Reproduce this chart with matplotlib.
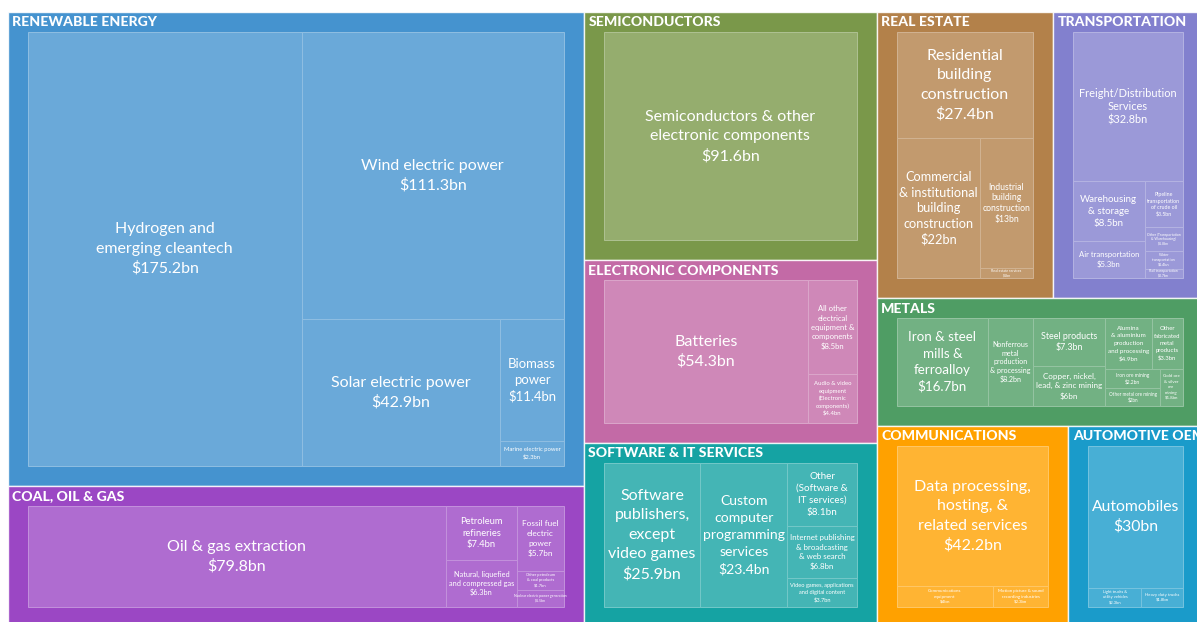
import matplotlib
matplotlib.use("Agg")
import matplotlib.pyplot as plt
from matplotlib.patches import Rectangle
from matplotlib.font_manager import FontProperties
from matplotlib import colors as mcolors
from itertools import combinations
import numpy as np

# ------------------------------------------------------------------ data
group_names = ["RENEWABLE ENERGY", "COAL, OIL & GAS", "SEMICONDUCTORS",
               "ELECTRONIC COMPONENTS", "SOFTWARE & IT SERVICES", "REAL ESTATE",
               "TRANSPORTATION", "METALS", "COMMUNICATIONS", "AUTOMOTIVE OEM"]
group_colors = ["#4593CF", "#9B47C4", "#7A984A", "#C36AA6", "#15A3A3",
                "#B3814A", "#8280CE", "#4F9D64", "#FFA100", "#1A9BCA"]

renewable_names = ["Hydrogen and emerging cleantech", "Wind electric power",
                   "Solar electric power", "Biomass power", "Marine electric power"]
renewable_values = [175.2, 111.3, 42.9, 11.4, 2.3]

coal_names = ["Oil & gas extraction", "Petroleum refineries",
              "Natural, liquefied and compressed gas", "Fossil fuel electric power",
              "Other petroleum & coal products", "Nuclear electric power generation"]
coal_values = [79.8, 7.4, 6.3, 5.7, 1.7, 1.5]

semis_names = ["Semiconductors & other electronic components"]
semis_values = [91.6]

electronic_names = ["Batteries", "All other electrical equipment & components",
                    "Audio & video equipment (Electronic components)"]
electronic_values = [54.3, 8.5, 4.4]

software_names = ["Software publishers, except video games",
                  "Custom computer programming services",
                  "Other (Software & IT services)",
                  "Internet publishing & broadcasting & web search",
                  "Video games, applications and digital content"]
software_values = [25.9, 23.4, 8.1, 6.8, 3.7]

realestate_names = ["Residential building construction",
                    "Commercial & institutional building construction",
                    "Industrial building construction", "Real estate services"]
realestate_values = [27.4, 22, 13, 1]

transport_names = ["Freight/Distribution Services", "Warehousing & storage",
                   "Air transportation", "Pipeline transportation of crude oil",
                   "Other (Transportation & Warehousing)", "Water transportation",
                   "Rail transportation"]
transport_values = [32.8, 8.5, 5.3, 3.5, 1.8, 1.4, 0.7]

metals_names = ["Iron & steel mills & ferroalloy",
                "Nonferrous metal production & processing", "Steel products",
                "Copper, nickel, lead, & zinc mining",
                "Alumina & aluminium production and processing",
                "Other fabricated metal products", "Iron ore mining",
                "Other metal ore mining", "Gold ore & silver ore mining"]
metals_values = [16.7, 8.2, 7.3, 6, 4.9, 3.3, 2.2, 2, 1.8]

communications_names = ["Data processing, hosting, & related services",
                        "Communications equipment",
                        "Motion picture & sound recording industries"]
communications_values = [42.2, 4, 2.3]

automotive_names = ["Automobiles", "Light trucks & utility vehicles",
                    "Heavy duty trucks"]
automotive_values = [30, 2.3, 1.8]

group_children = [
    (renewable_names, renewable_values), (coal_names, coal_values),
    (semis_names, semis_values), (electronic_names, electronic_values),
    (software_names, software_values), (realestate_names, realestate_values),
    (transport_names, transport_values), (metals_names, metals_values),
    (communications_names, communications_values),
    (automotive_names, automotive_values)]

# ------------------------------------------------------------------ layout
W_PX, H_PX, DPI = 1197, 622, 100
FONT = "Lato"
X0, Y0, TW, TH = 8, 12, 1195, 615     # treemap extent (pixels)
PAD = 20                               # group padding (header band on top)
SPLIT_BIAS = 0.55                      # prefer the split just above half


def binary_layout(values, x0, y0, x1, y1, inner=False):
    """Binary treemap tiling (d3-like, with a split-point bias)."""
    n = len(values)
    sums = np.concatenate([[0.0], np.cumsum(values)])
    rects = [None] * n

    def part(i, j, value, x0, y0, x1, y1):
        if i >= j - 1:
            rects[i] = (x0, y0, x1, y1)
            return
        off = sums[i]
        target = value / 2 + off
        k, hi = i + 1, j - 1
        while k < hi:
            mid = (k + hi) // 2
            if sums[mid] < target:
                k = mid + 1
            else:
                hi = mid
        if i + 1 < k and (target - sums[k - 1]) < SPLIT_BIAS * (sums[k] - target):
            k -= 1
        vl = sums[k] - off
        vr = value - vl
        w, h = x1 - x0, y1 - y0
        vbias = 1.0
        if inner:
            vbias = 0.97 if min(w, h) > 40 else 1.5
        if w > vbias * h:
            xk = (x0 * vr + x1 * vl) / value
            part(i, k, vl, x0, y0, xk, y1)
            part(k, j, vr, xk, y0, x1, y1)
        else:
            yk = (y0 * vr + y1 * vl) / value
            part(i, k, vl, x0, y0, x1, yk)
            part(k, j, vr, x0, yk, x1, y1)

    part(0, n, sums[-1], x0, y0, x1, y1)
    return rects


fig = plt.figure(figsize=(W_PX / DPI, H_PX / DPI), dpi=DPI)
ax = fig.add_axes([0, 0, 1, 1])
ax.set_xlim(0, W_PX)
ax.set_ylim(H_PX, 0)
ax.axis("off")
renderer = fig.canvas.get_renderer()

REF_PT = 20.0
_wcache = {}


def text_w(s, px, weight="normal"):
    key = (s, weight)
    if key not in _wcache:
        prop = FontProperties(family=FONT, size=REF_PT, weight=weight)
        w, _, _ = renderer.get_text_width_height_descent(s, prop, ismath=False)
        _wcache[key] = w / (REF_PT * DPI / 72.0)
    return _wcache[key] * px


def best_wrap(words, px, maxw):
    n = len(words)
    for nl in range(1, n + 1):
        best = None
        for cuts in combinations(range(1, n), nl - 1):
            idx = [0, *cuts, n]
            lines = [" ".join(words[idx[i]:idx[i + 1]]) for i in range(nl)]
            if any(l == "&" for l in lines):
                continue
            m = max(text_w(l, px) for l in lines)
            if best is None or m < best[0]:
                best = (m, lines)
        if best is not None and best[0] <= maxw:
            return best[1]
    return None


LS = 1.22


def fit_label(name, val, w, h):
    words = name.split()
    px = min(16.0, 0.15 * np.sqrt(w * h))
    while px >= 3.5:
        maxw = min(w - max(4.0, 0.3 * w - 22), 11.5 * px)
        lines = best_wrap(words, px, maxw)
        if lines is not None and text_w(val, px) <= maxw:
            lines = lines + [val]
            block = (len(lines) - 1) * LS * px + px
            if block <= 0.74 * h:
                return px, lines
        px -= 0.25
    return 3.5, [name, val]


def lighten(c, a):
    r = np.array(mcolors.to_rgb(c))
    return tuple(r + (1 - r) * a)


grects = binary_layout([sum(v) for _, v in group_children],
                       X0, Y0, X0 + TW, Y0 + TH)

for gname, gcol, (names, vals), (gx0, gy0, gx1, gy1) in zip(
        group_names, group_colors, group_children, grects):
    ax.add_patch(Rectangle((gx0, gy0), gx1 - gx0, gy1 - gy0, facecolor=gcol,
                           edgecolor=(1, 1, 1, 0.85), linewidth=1.0, zorder=1))
    ax.text(gx0 + 4.5, gy0 + 10.5, gname, ha="left", va="center",
            fontsize=14 * 72 / DPI, fontweight="black", family=FONT,
            color="white", zorder=5)
    leaf_rects = binary_layout(vals, gx0 + PAD, gy0 + PAD, gx1 - PAD, gy1 - PAD,
                               inner=True)
    leaf_col = lighten(gcol, 0.2)
    for nm, v, (lx0, ly0, lx1, ly1) in zip(names, vals, leaf_rects):
        ax.add_patch(Rectangle((lx0, ly0), lx1 - lx0, ly1 - ly0,
                               facecolor=leaf_col, edgecolor=lighten(gcol, 0.4),
                               linewidth=0.7, zorder=2))
        w, h = lx1 - lx0, ly1 - ly0
        px, lines = fit_label(nm, f"${v:g}bn", w, h)
        cx, cy = (lx0 + lx1) / 2, (ly0 + ly1) / 2
        n = len(lines)
        for i, line in enumerate(lines):
            ax.text(cx, cy + (i - (n - 1) / 2) * LS * px, line, ha="center",
                    va="center", fontsize=px * 72 / DPI, family=FONT,
                    color="white", zorder=4)

fig.savefig("out.png", dpi=DPI)
